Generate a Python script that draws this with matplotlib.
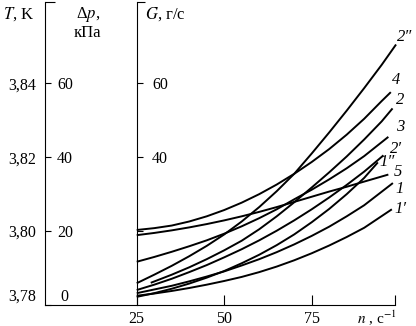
import matplotlib.pyplot as plt
from matplotlib.ticker import FixedLocator

plt.rcParams['font.family'] = ['Liberation Serif', 'DejaVu Serif']
plt.rcParams['mathtext.fontset'] = 'stix'
plt.rcParams['font.size'] = 11.5

# curves (n in 1/s, y in the G/dp grid units)
n_grid = [25, 30, 35, 40, 45, 50, 55, 60, 65, 70, 75, 80, 85, 90]

n_2pp = n_grid + [95, 99.1]
y_2pp = [5.9, 8.2, 10.6, 13.2, 16.0, 19.1, 22.6, 26.5, 30.8, 35.5, 41.0, 46.7, 52.6, 58.7, 65.0, 70.5]

n_4 = n_grid + [95, 97.6]
y_4 = [20.3, 20.8, 21.5, 22.6, 24.0, 25.7, 27.7, 30.0, 32.6, 35.5, 38.7, 42.2, 46.1, 50.4, 55.2, 57.6]

n_2 = [29] + n_grid[2:] + [95, 98.1]
y_2 = [6.0, 8.2, 10.2, 12.4, 14.8, 17.4, 20.5, 24.0, 27.8, 31.8, 35.9, 40.2, 44.8, 49.7, 53.2]

n_3 = n_grid + [96.9]
y_3 = [11.7, 13.0, 14.4, 15.9, 17.5, 19.3, 21.3, 23.5, 25.9, 28.6, 31.2, 34.0, 37.0, 40.3, 45.5]

n_2p = n_grid + [95.5]
y_2p = [4.05, 5.5, 7.1, 8.9, 10.8, 12.9, 15.1, 17.5, 20.1, 22.9, 25.9, 29.1, 32.5, 36.1, 40.5]

n_1pp = n_grid + [93.9]
y_1pp = [2.2, 3.2, 4.4, 5.8, 7.4, 9.2, 11.3, 13.6, 16.2, 19.1, 22.4, 26.0, 30.0, 34.4, 38.6]

n_5 = n_grid + [96.9]
y_5 = [18.9, 19.5, 20.2, 21.0, 21.9, 22.9, 24.0, 25.2, 26.5, 27.9, 29.3, 30.7, 32.0, 33.4, 35.3]

n_1 = n_grid + [98.2]
y_1 = [3.2, 4.2, 5.2, 6.4, 7.7, 9.1, 10.7, 12.4, 14.3, 16.4, 18.7, 21.2, 24.0, 27.0, 33.0]

n_1p = n_grid + [97.9]
y_1p = [2.5, 3.1, 3.8, 4.6, 5.5, 6.5, 7.6, 8.9, 10.4, 12.1, 14.0, 16.1, 18.4, 20.9, 25.9]

curve_names = ['2″', '4', '2', '3', '2′', '1″', '5', '1', '1′']

T_ticks = ['3,78', '3,80', '3,82', '3,84']
dp_ticks = ['0', '20', '40', '60']
G_ticks = ['', '40', '60']
n_ticks = [25, 50, 75]

fig = plt.figure(figsize=(4.16, 3.26), dpi=100)
ax = fig.add_axes([44.7/416, 1-305/326, (395-44.7)/416, 303/326])
ax.set_xlim(-1.3, 98.8)
ax.set_ylim(0, 82)
ax.spines['top'].set_visible(False)
ax.spines['right'].set_visible(False)

ax.set_xticks(n_ticks)
ax.xaxis.set_minor_locator(FixedLocator([98.8]))
ax.tick_params(axis='x', which='both', direction='in', length=7, width=0.8, pad=4)

ax.set_yticks([0, 20, 40, 60])
ax.set_yticklabels(T_ticks)
ax.yaxis.set_minor_locator(FixedLocator([82]))
ax.tick_params(axis='y', which='major', direction='in', length=4, width=0.8, pad=6)
ax.tick_params(axis='y', which='minor', direction='in', length=7, width=0.8)

# dp scale, labels on the right side of the left spine
axP = ax.twinx()
axP.set_ylim(0, 82)
for s in ['top', 'bottom', 'left', 'right']:
    axP.spines[s].set_visible(False)
axP.spines['right'].set_position(('axes', 0))
axP.set_yticks([0, 20, 40, 60])
axP.set_yticklabels(dp_ticks, ha='center')
axP.tick_params(axis='y', direction='out', length=0, pad=14.5)

# G scale at n = 25
axG = ax.twinx()
axG.set_ylim(0, 82)
for s in ['top', 'bottom', 'left']:
    axG.spines[s].set_visible(False)
axG.spines['right'].set_position(('data', 25))
axG.spines['right'].set_linewidth(0.8)
axG.set_yticks([20, 40, 60])
axG.set_yticklabels(G_ticks)
axG.yaxis.set_minor_locator(FixedLocator([82]))
axG.tick_params(axis='y', which='major', direction='out', length=4, width=0.8, pad=7)
axG.tick_params(axis='y', which='minor', direction='out', length=6, width=0.8)

curves = [(n_2pp, y_2pp), (n_4, y_4), (n_2, y_2), (n_3, y_3), (n_2p, y_2p),
          (n_1pp, y_1pp), (n_5, y_5), (n_1, y_1), (n_1p, y_1p)]
label_offsets = [(9, 7), (5, 12), (8, 8), (12, 10), (13, 6), (9, 0), (10, 3), (7, -6), (9, 0)]
for (xs, ys), name, off in zip(curves, curve_names, label_offsets):
    ax.plot(xs, ys, color='black', lw=1.4, clip_on=False, solid_capstyle='butt')
    ax.annotate(name, (xs[-1], ys[-1]), xytext=off, textcoords='offset pixels',
                ha='center', va='center', style='italic', fontsize=12,
                annotation_clip=False)

fig.text(3/416, 1-14/326, '$T$, K', ha='left', va='center', fontsize=12)
fig.text(100/416, 1-14/326, 'Δ$p$,', ha='right', va='center', fontsize=12)
fig.text(101/416, 1-33/326, 'кПа', ha='right', va='center', fontsize=12)
fig.text(145/416, 1-14/326, '$G$, г/с', ha='left', va='center', fontsize=12)
fig.text(397/416, 1-318/326, '$n$ , с$^{-1}$', ha='right', va='center', fontsize=11)

# bottom labels sit a little above the axis line
ax.yaxis.get_major_ticks()[0].label1.set_va('bottom')
axP.yaxis.get_major_ticks()[0].label2.set_va('bottom')

fig.savefig('out.png', dpi=100)
